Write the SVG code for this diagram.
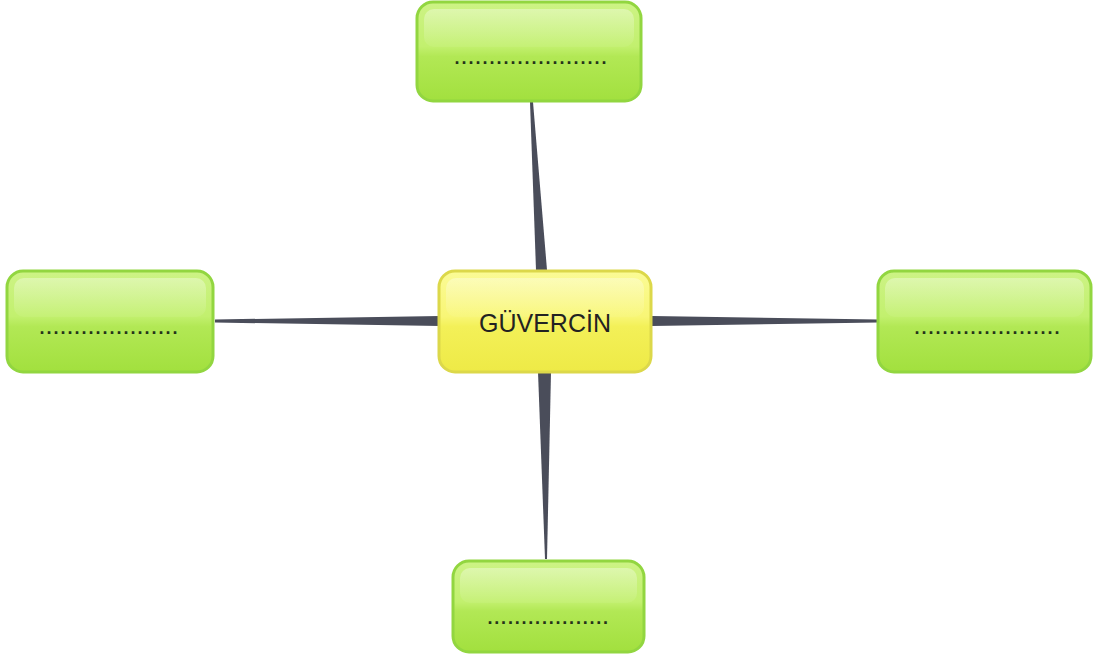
<svg xmlns="http://www.w3.org/2000/svg" width="1096" height="667" viewBox="0 0 1096 667">
<defs>
<linearGradient id="g" x1="0" y1="0" x2="0" y2="1">
<stop offset="0" stop-color="#cdf385"/>
<stop offset="0.45" stop-color="#c2f06e"/>
<stop offset="0.55" stop-color="#b2e855"/>
<stop offset="1" stop-color="#a2e03e"/>
</linearGradient>
<linearGradient id="y" x1="0" y1="0" x2="0" y2="1">
<stop offset="0" stop-color="#fbfb96"/>
<stop offset="0.45" stop-color="#f8f676"/>
<stop offset="0.55" stop-color="#f3f058"/>
<stop offset="1" stop-color="#eeea46"/>
</linearGradient>
<linearGradient id="hl" x1="0" y1="0" x2="0" y2="1">
<stop offset="0" stop-color="#ffffff" stop-opacity="0.35"/>
<stop offset="1" stop-color="#ffffff" stop-opacity="0.05"/>
</linearGradient>
</defs>
<style>
.gb{fill:url(#g);stroke:#92d640;stroke-width:3}
.yb{fill:url(#y);stroke:#dcd84a;stroke-width:3}
.hl{fill:url(#hl)}
.dots{font-family:"Liberation Sans",Arial,sans-serif;font-size:18px;font-weight:bold;fill:#25331a;letter-spacing:2px}
.title{font-family:"Liberation Sans",Arial,sans-serif;font-size:25px;fill:#222222}
.conn{fill:#4a4d5a}
</style>
<rect width="1096" height="667" fill="#ffffff"/>
<g id="connectors">
<polygon class="conn" points="530,102 533,102 547,270 536,270"/>
<polygon class="conn" points="215,319.5 215,322.5 440,326 440,316"/>
<polygon class="conn" points="652,316 652,326 878,322.5 878,319.5"/>
<polygon class="conn" points="538,372 551,372 547,559 545,559"/>
</g>
<g id="node-top">
<rect class="gb" x="417" y="2" width="224" height="99" rx="16"/>
<rect class="hl" x="424" y="9" width="210" height="38" rx="10"/>
<text class="dots" x="454.5" y="64">......................</text>
</g>
<g id="node-left">
<rect class="gb" x="7" y="271" width="206" height="101" rx="16"/>
<rect class="hl" x="14" y="278" width="192" height="39" rx="10"/>
<text class="dots" x="39.5" y="334">....................</text>
</g>
<g id="node-right">
<rect class="gb" x="878" y="271" width="213" height="101" rx="16"/>
<rect class="hl" x="885" y="278" width="199" height="39" rx="10"/>
<text class="dots" x="914.5" y="334">.....................</text>
</g>
<g id="node-bottom">
<rect class="gb" x="453" y="561" width="191" height="91" rx="16"/>
<rect class="hl" x="460" y="568" width="177" height="35" rx="10"/>
<text class="dots" x="487.5" y="624" style="letter-spacing:1.8px">..................</text>
</g>
<g id="node-center">
<rect class="yb" x="439" y="271" width="212" height="101" rx="16"/>
<rect class="hl" x="446" y="278" width="198" height="39" rx="10"/>
<text class="title" x="545" y="332" text-anchor="middle">GÜVERCİN</text>
</g>
</svg>
